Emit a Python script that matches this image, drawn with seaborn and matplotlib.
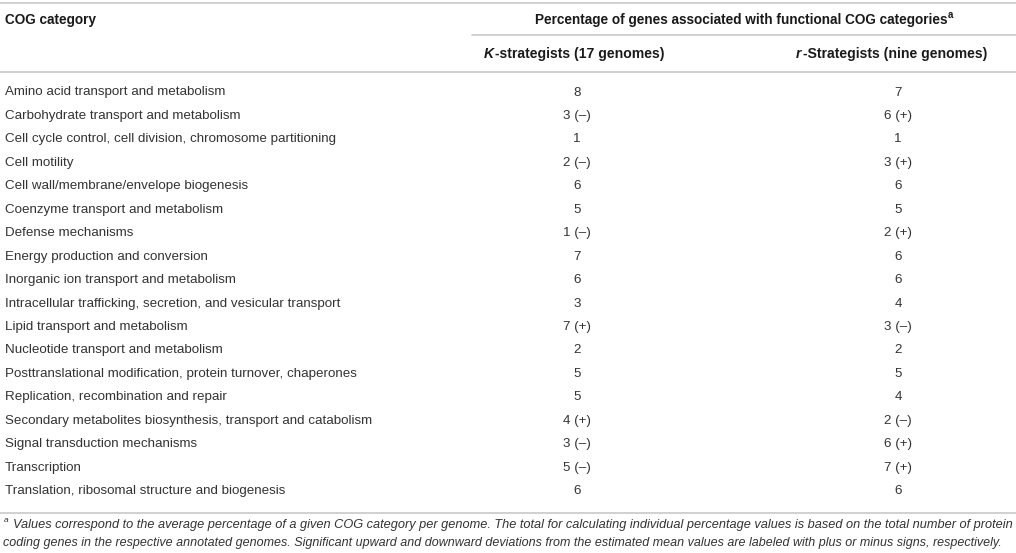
import matplotlib
matplotlib.use("Agg")
import matplotlib.pyplot as plt
import seaborn as sns

# Table content
categories = [
    "Amino acid transport and metabolism",
    "Carbohydrate transport and metabolism",
    "Cell cycle control, cell division, chromosome partitioning",
    "Cell motility",
    "Cell wall/membrane/envelope biogenesis",
    "Coenzyme transport and metabolism",
    "Defense mechanisms",
    "Energy production and conversion",
    "Inorganic ion transport and metabolism",
    "Intracellular trafficking, secretion, and vesicular transport",
    "Lipid transport and metabolism",
    "Nucleotide transport and metabolism",
    "Posttranslational modification, protein turnover, chaperones",
    "Replication, recombination and repair",
    "Secondary metabolites biosynthesis, transport and catabolism",
    "Signal transduction mechanisms",
    "Transcription",
    "Translation, ribosomal structure and biogenesis",
]
k_values = [8, 3, 1, 2, 6, 5, 1, 7, 6, 3, 7, 2, 5, 5, 4, 3, 5, 6]
k_flags = ["", "-", "", "-", "", "", "-", "", "", "", "+", "", "", "", "+", "-", "-", ""]
r_values = [7, 6, 1, 3, 6, 5, 2, 6, 6, 4, 3, 2, 5, 4, 2, 6, 7, 6]
r_flags = ["", "+", "", "+", "", "", "+", "", "", "", "-", "", "", "", "-", "+", "+", ""]

header_cat = "COG category"
header_span = "Percentage of genes associated with functional COG categories"
header_k = ("K", "-strategists (17 genomes)")
header_r = ("r", "-Strategists (nine genomes)")
foot_line1 = ("Values correspond to the average percentage of a given COG category per genome. "
              "The total for calculating individual percentage values is based on the total number of protein")
foot_line2 = ("coding genes in the respective annotated genomes. Significant upward and downward deviations "
              "from the estimated mean values are labeled with plus or minus signs, respectively.")

sns.set_theme(style="white")
plt.rcParams['font.family'] = ['Liberation Sans', 'DejaVu Sans']

W, H = 1016, 553
fig = plt.figure(figsize=(W / 100, H / 100), dpi=100)
ax = fig.add_axes([0, 0, 1, 1])
ax.set_xlim(0, W)
ax.set_ylim(H, 0)
ax.axis("off")
renderer = fig.canvas.get_renderer()

text_col = "#333333"
head_col = "#1a1a1a"
line_col = "#c8c8c8"
fs = 9.65
fs_head = 9.8
fs_sub = 10.1

x_cat, x_k, x_r = 5, 577, 898
row0, step = 92.5, 23.45


def fmt(v, f):
    if f == "+":
        return f"{v} (+)"
    if f == "-":
        return f"{v} (\u2013)"
    return str(v)


def right_edge(t):
    bb = t.get_window_extent(renderer)
    return ax.transData.inverted().transform((bb.x1, bb.y0))[0]


# rules
ax.plot([0, W], [3, 3], color=line_col, lw=1.2)
ax.plot([472, W], [35, 35], color=line_col, lw=1.2)
ax.plot([0, W], [72, 72], color=line_col, lw=1.2)
ax.plot([0, W], [513, 513], color=line_col, lw=1.2)

# header
ax.text(x_cat, 20, header_cat, fontsize=fs_head, fontweight="bold", color=head_col, va="center")
hs = ax.text(741, 20, header_span, fontsize=fs_head, fontweight="bold", color=head_col,
             va="center", ha="center")
ax.text(right_edge(hs) + 1, 15, "a", fontsize=7, fontweight="bold", color=head_col, va="center")

for xc, (it, rest) in [(574, header_k), (891, header_r)]:
    probe = ax.text(xc, 54, it + rest, fontsize=fs_sub, fontweight="bold", ha="center", alpha=0)
    bb = probe.get_window_extent(renderer)
    left = ax.transData.inverted().transform((bb.x0, bb.y0))[0]
    probe.remove()
    ti = ax.text(left, 54, it, fontsize=fs_sub, fontweight="bold", style="italic",
                 color=head_col, va="center", ha="left")
    ax.text(right_edge(ti) + 1, 54, rest, fontsize=fs_sub, fontweight="bold", color=head_col,
            va="center", ha="left")

# body
for i, cat in enumerate(categories):
    y = row0 + i * step
    ax.text(x_cat, y, cat, fontsize=fs, color=text_col, va="center")
    ax.text(x_k, y, fmt(k_values[i], k_flags[i]), fontsize=fs, color=text_col, va="center", ha="center")
    ax.text(x_r, y, fmt(r_values[i], r_flags[i]), fontsize=fs, color=text_col, va="center", ha="center")

# footnote
ax.text(4, 521, "a", fontsize=6, style="italic", color=text_col, va="center")
ax.text(13, 525, foot_line1, fontsize=9.15, style="italic", color=text_col, va="center")
ax.text(3, 543, foot_line2, fontsize=9.0, style="italic", color=text_col, va="center")

fig.savefig("out.png", dpi=100)
